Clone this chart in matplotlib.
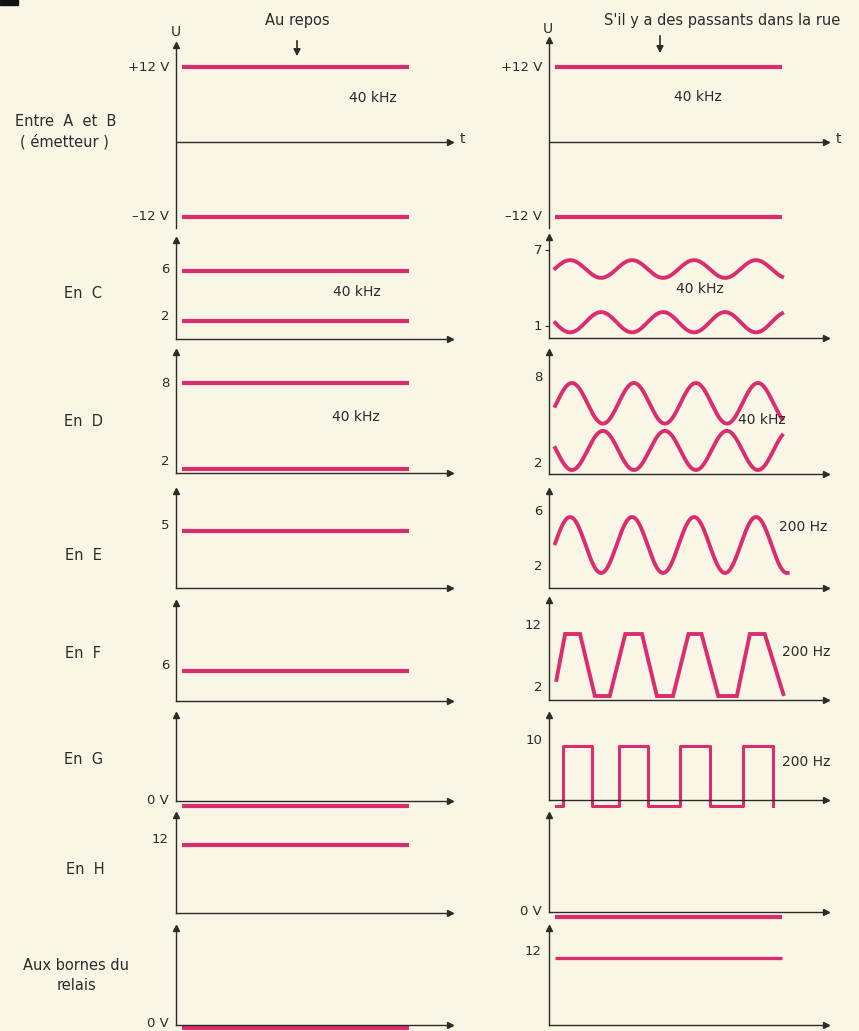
import numpy as np
import matplotlib.pyplot as plt
from matplotlib.patches import Rectangle, FancyArrowPatch

W, H = 859, 1031
BG = '#faf6e6'
PINK = '#dc2c70'
INK = '#2b2b2b'

plt.rcParams['font.family'] = ['DejaVu Sans']
plt.rcParams['font.size'] = 10

# time in units of one period of the drawn waveform
t_flat = [0.0, 3.65]

# left column "Au repos" : constant levels in volts
levels_ab_rest = [12, -12]
levels_c_rest = [6, 2]
levels_d_rest = [8, 2]
level_e_rest = 5
level_f_rest = 6
level_g_rest = 0
level_h_rest = 12
level_relay_rest = 0

# right column "S'il y a des passants dans la rue"
levels_ab_active = [12, -12]
# sines : (offset V, amplitude V, time of first peak, end time), negative amplitude = inverted
sine_c_upper = (5.5, 0.7, 0.24, 3.66)
sine_c_lower = (1.3, -0.8, 0.24, 3.66)
sine_d_upper = (6.6, 1.4, 0.27, 3.66)
sine_d_lower = (3.35, -1.35, 0.27, 3.66)
sine_e = (4.0, 2.0, 0.24, 3.75)
# trapezoid at F : corner points
trap_f_t = [0.02, 0.16, 0.40, 0.64, 0.88, 1.13, 1.40, 1.64, 1.90, 2.15, 2.36, 2.63, 2.93, 3.14, 3.38, 3.68]
trap_f_v = [4.6, 12, 12, 2, 2, 12, 12, 2, 2, 12, 12, 2, 2, 12, 12, 2.3]
# square at G : start time then switching instants
square_g_start = 0.02
square_g_edges = [0.13, 0.60, 1.03, 1.50, 2.01, 2.50, 3.03, 3.52]
square_g_low, square_g_high = 0, 10
level_h_active = 0
level_relay_active = 12

fig = plt.figure(figsize=(W / 100, H / 100), dpi=100, facecolor=BG)


def panel(col, top, bottom, zero, ppv, xaxis_at_zero=False):
    # pixel layout -> axes; zero = pixel row of 0 V, ppv = pixels per volt
    x0 = 176 if col == 0 else 549
    x1 = 450 if col == 0 else 826
    ax = fig.add_axes([x0 / W, 1 - bottom / H, (x1 - x0) / W, (bottom - top) / H])
    ax.set_xlim(-0.1, (x1 - x0) / 62 - 0.1)
    ax.set_ylim((zero - bottom) / ppv, (zero - top) / ppv)
    ax.patch.set_alpha(0)
    for s in ['top', 'right']:
        ax.spines[s].set_visible(False)
    for s in ['left', 'bottom']:
        ax.spines[s].set_color(INK)
        ax.spines[s].set_linewidth(1.0)
    ax.set_xticks([])
    ax.set_yticks([])
    ax.plot([0], [1], marker='^', ms=4, color=INK, transform=ax.transAxes, clip_on=False)
    if xaxis_at_zero:
        ax.spines['bottom'].set_visible(False)
        ax.axhline(0, color=INK, lw=1.0)
        ax.plot([1], [0], marker='>', ms=4, color=INK, transform=ax.get_yaxis_transform(), clip_on=False)
    else:
        ax.plot([1], [0], marker='>', ms=4, color=INK, transform=ax.transAxes, clip_on=False)
    return ax


def vlabel(ax, v, s, dy=0):
    ax.annotate(s, xy=(0, v), xycoords=ax.get_yaxis_transform(), xytext=(-5, dy),
                textcoords='offset points', ha='right', va='center', color=INK,
                fontsize=9.5, annotation_clip=False)


def flat(ax, v, lw=3.0):
    ax.plot(t_flat, [v, v], color=PINK, lw=lw, solid_capstyle='butt', clip_on=False)


def sine(ax, p, lw=2.8):
    off, amp, tpk, tend = p
    t = np.linspace(0, tend, 400)
    ax.plot(t, off + amp * np.cos(2 * np.pi * (t - tpk)), color=PINK, lw=lw, clip_on=False)


def ftext(x, y, s, **kw):
    kw.setdefault('ha', 'center')
    kw.setdefault('va', 'center')
    kw.setdefault('color', INK)
    fig.text(x / W, 1 - y / H, s, **kw)


# row 1 : between A and B
for col, top, levels in [(0, 45, levels_ab_rest), (1, 40, levels_ab_active)]:
    ax = panel(col, top, 228, 142, 6.21, xaxis_at_zero=True)
    for v in levels:
        flat(ax, v)
    vlabel(ax, 12, '+12 V')
    vlabel(ax, -12, '\u201312 V')

# row 2 : C
ax = panel(0, 240, 339, 346, 12.5)
for v in levels_c_rest:
    flat(ax, v)
vlabel(ax, 6, '6', 1)
vlabel(ax, 2, '2', 3)
ax = panel(1, 237, 338, 338.7, 12.67)
sine(ax, sine_c_upper)
sine(ax, sine_c_lower)
ax.set_yticks([7, 1])
ax.tick_params(axis='y', length=3, width=0.8, color=INK, labelleft=False)
vlabel(ax, 7, '7', 0)
vlabel(ax, 1, '1', 0)

# row 3 : D
ax = panel(0, 352, 473, 497, 14.2)
for v in levels_d_rest:
    flat(ax, v)
vlabel(ax, 8, '8', 0)
vlabel(ax, 2, '2', 5)
ax = panel(1, 352, 474, 499, 14.5)
sine(ax, sine_d_upper)
sine(ax, sine_d_lower)
vlabel(ax, 8, '8', 4)
vlabel(ax, 2, '2', 5)

# row 4 : E
ax = panel(0, 491, 588, 601, 14)
flat(ax, level_e_rest)
vlabel(ax, 5, '5', 4)
ax = panel(1, 491, 588, 601, 14)
sine(ax, sine_e)
vlabel(ax, 6, '6', 4)
vlabel(ax, 2, '2', 5)

# row 5 : F
ax = panel(0, 603, 701, 708.4, 6.2)
flat(ax, level_f_rest)
vlabel(ax, 6, '6', 4)
ax = panel(1, 600, 700, 708.4, 6.2)
ax.plot(trap_f_t, trap_f_v, color=PINK, lw=2.8, clip_on=False, solid_joinstyle='miter')
vlabel(ax, 12, '12', 6)
vlabel(ax, 2, '2', 6)

# row 6 : G
ax = panel(0, 715, 801, 806, 6)
flat(ax, level_g_rest)
vlabel(ax, 0, '0 V', 4)
ax = panel(1, 715, 800, 806, 6)
sq_t, sq_v = [square_g_start], [square_g_low]
lvl = square_g_low
for e in square_g_edges:
    nxt = square_g_high if lvl == square_g_low else square_g_low
    sq_t += [e, e]
    sq_v += [lvl, nxt]
    lvl = nxt
ax.plot(sq_t, sq_v, color=PINK, lw=2.2, clip_on=False)
vlabel(ax, 10, '10', 4)

# row 7 : H
ax = panel(0, 815, 913, 917, 6)
flat(ax, level_h_rest)
vlabel(ax, 12, '12', 4)
ax = panel(1, 815, 912, 917, 6)
flat(ax, level_h_active)
vlabel(ax, 0, '0 V', 4)

# row 8 : relay terminals
ax = panel(0, 928, 1025, 1028, 5.83)
flat(ax, level_relay_rest)
vlabel(ax, 0, '0 V', 3)
ax = panel(1, 928, 1025, 1028, 5.83)
flat(ax, level_relay_active, lw=2.4)
vlabel(ax, 12, '12', 5)

# headings and labels
ftext(297, 20, 'Au repos', fontsize=10.5)
ftext(722, 20, "S'il y a des passants dans la rue", fontsize=10.5)
for x, y0, y1 in [(297, 38, 59), (660, 33, 56)]:
    fig.add_artist(FancyArrowPatch((x / W, 1 - y0 / H), (x / W, 1 - y1 / H), transform=fig.transFigure,
                                   arrowstyle='-|>', mutation_scale=10, lw=1.2, color=INK))
ftext(176, 32, 'U')
ftext(548, 29, 'U')
ftext(462, 139, 't')
ftext(838, 139, 't')

for x, y, s in [(66, 121, 'Entre  A  et  B'), (64, 142, '( émetteur )'),
                (83, 293, 'En  C'), (83, 422, 'En  D'), (83, 555, 'En  E'),
                (83, 653, 'En  F'), (84, 760, 'En  G'), (85, 870, 'En  H'),
                (76, 966, 'Aux bornes du'), (76, 985, 'relais')]:
    ftext(x, y, s, fontsize=10.5)

for x, y in [(373, 98), (698, 97), (357, 292), (356, 417), (700, 289), (762, 420)]:
    ftext(x, y, '40 kHz')
for x, y in [(803, 527), (806, 652), (806, 762)]:
    ftext(x, y, '200 Hz')

fig.add_artist(Rectangle((0, 1 - 5 / H), 18 / W, 5 / H, transform=fig.transFigure, color='#111'))

fig.savefig('out.png', dpi=100, facecolor=BG)
